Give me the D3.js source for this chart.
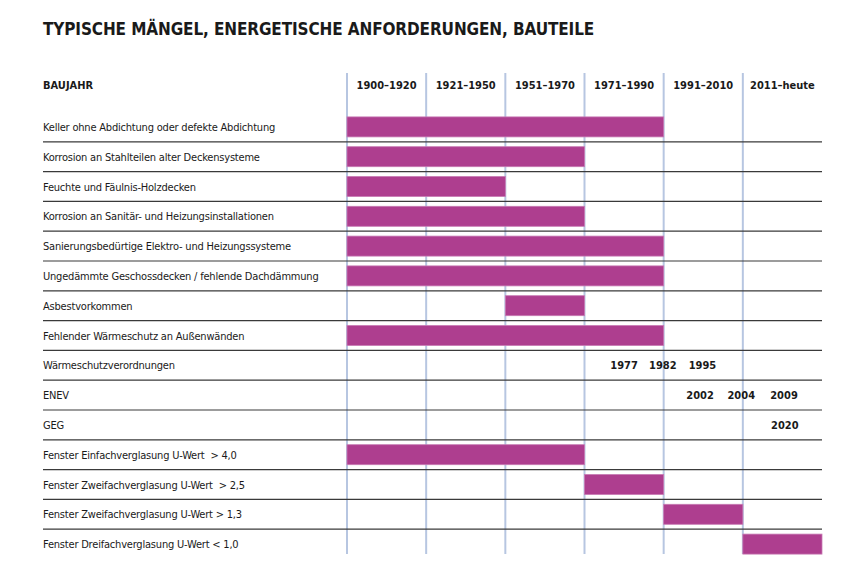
<!DOCTYPE html>
<html>
<head>
<meta charset="utf-8">
<script src="https://cdn.jsdelivr.net/npm/d3@7"></script>
<style>
  body { margin: 0; background: #fff; }
  text { font-family: "DejaVu Sans Condensed", sans-serif; fill: #1a1a1a; white-space: pre; }
</style>
</head>
<body>
<div id="chart"></div>
<script>
// columns (Baujahr periods)
const periods = ["1900–1920", "1921–1950", "1951–1970", "1971–1990", "1991–2010", "2011–heute"];

// row labels
const rows = [
  "Keller ohne Abdichtung oder defekte Abdichtung",
  "Korrosion an Stahlteilen alter Deckensysteme",
  "Feuchte und Fäulnis-Holzdecken",
  "Korrosion an Sanitär- und Heizungsinstallationen",
  "Sanierungsbedürtige Elektro- und Heizungssysteme",
  "Ungedämmte Geschossdecken / fehlende Dachdämmung",
  "Asbestvorkommen",
  "Fehlender Wärmeschutz an Außenwänden",
  "Wärmeschutzverordnungen",
  "ENEV",
  "GEG",
  "Fenster Einfachverglasung U-Wert  > 4,0",
  "Fenster Zweifachverglasung U-Wert  > 2,5",
  "Fenster Zweifachverglasung U-Wert > 1,3",
  "Fenster Dreifachverglasung U-Wert < 1,0"
];

// bars: row index, first period index, last period index (exclusive)
const barRow   = [0, 1, 2, 3, 4, 5, 6, 7, 11, 12, 13, 14];
const barStart = [0, 0, 0, 0, 0, 0, 2, 0, 0, 3, 4, 5];
const barEnd   = [4, 3, 2, 3, 4, 4, 3, 4, 3, 4, 5, 6];

// year markers for regulations: row index, year, period slot (in column units)
const yearRow  = [8, 8, 8, 9, 9, 9, 10];
const yearText = ["1977", "1982", "1995", "2002", "2004", "2009", "2020"];
const yearSlot = [3.5, 3.99, 4.49, 4.46, 4.98, 5.52, 5.53];

const width = 864, height = 576;

const svg = d3.select('#chart').append('svg')
  .attr('width', width)
  .attr('height', height);

const x = d3.scaleLinear().domain([0, periods.length]).range([347, 822]);
const y = d3.scaleBand().domain(d3.range(rows.length)).range([112, 559]);

// title
svg.append('text')
  .attr('x', 43).attr('y', 35)
  .style('font-size', '17px').style('font-weight', 'bold')
  .style('letter-spacing', '-0.12px')
  .text('TYPISCHE MÄNGEL, ENERGETISCHE ANFORDERUNGEN, BAUTEILE');

// header
svg.append('text')
  .attr('x', 43).attr('y', 89)
  .style('font-size', '11px').style('font-weight', 'bold')
  .text('BAUJAHR');

svg.selectAll('.period')
  .data(periods)
  .join('text')
  .attr('class', 'period')
  .attr('x', (d, i) => x(i + 0.5))
  .attr('y', 89)
  .attr('text-anchor', 'middle')
  .style('font-size', '11px').style('font-weight', 'bold')
  .text(d => d);

// vertical grid
svg.selectAll('.vline')
  .data(d3.range(periods.length))
  .join('line')
  .attr('class', 'vline')
  .attr('x1', d => x(d)).attr('x2', d => x(d))
  .attr('y1', 73).attr('y2', 554)
  .attr('stroke', '#b7c6e1')
  .attr('stroke-width', 2);

// row separators
svg.selectAll('.sep')
  .data(d3.range(rows.length - 1))
  .join('line')
  .attr('class', 'sep')
  .attr('x1', 43).attr('x2', 822)
  .attr('y1', d => y(d) + y.bandwidth())
  .attr('y2', d => y(d) + y.bandwidth())
  .attr('stroke', '#3a3a3a')
  .attr('stroke-width', 1.2);

// row labels
svg.selectAll('.label')
  .data(rows)
  .join('text')
  .attr('class', 'label')
  .attr('x', 43)
  .attr('y', (d, i) => y(i) + y.bandwidth() / 2 + 4)
  .style('font-size', '11px')
  .style('letter-spacing', '-0.2px')
  .text(d => d);

// bars
svg.selectAll('.bar')
  .data(barRow)
  .join('rect')
  .attr('class', 'bar')
  .attr('x', (d, i) => x(barStart[i]))
  .attr('width', (d, i) => x(barEnd[i]) - x(barStart[i]))
  .attr('y', d => y(d) + y.bandwidth() / 2 - 10)
  .attr('height', 20)
  .attr('fill', '#ae3e8f')
  .attr('stroke', '#c77bb3')
  .attr('stroke-width', 0.8);

// year markers
svg.selectAll('.year')
  .data(yearText)
  .join('text')
  .attr('class', 'year')
  .attr('x', (d, i) => x(yearSlot[i]))
  .attr('y', (d, i) => y(yearRow[i]) + y.bandwidth() / 2 + 4)
  .attr('text-anchor', 'middle')
  .style('font-size', '11px').style('font-weight', 'bold')
  .text(d => d);
</script>
</body>
</html>
